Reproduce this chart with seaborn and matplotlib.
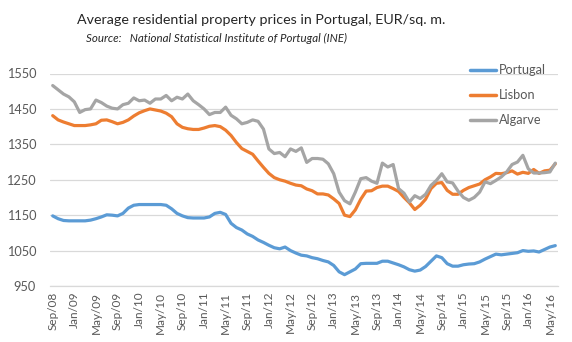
import matplotlib
matplotlib.use("Agg")
import matplotlib.pyplot as plt
import seaborn as sns
import pandas as pd
import numpy as np

months = ["Sep", "Oct", "Nov", "Dec", "Jan", "Feb", "Mar", "Apr", "May", "Jun", "Jul", "Aug"]
periods = []
_y, _m = 8, 0
for _ in range(94):
    periods.append(f"{months[_m]}/{_y:02d}")
    _m += 1
    if _m == 12:
        _m = 0
    if months[_m] == "Jan" and _m == 4:
        _y += 1

portugal = [1148, 1140, 1135, 1134, 1134, 1134, 1134, 1136, 1140, 1145,
            1151, 1150, 1148, 1155, 1170, 1178, 1180, 1180, 1180, 1180,
            1180, 1178, 1168, 1155, 1148, 1143, 1142, 1142, 1142, 1145,
            1155, 1158, 1152, 1127, 1115, 1108, 1097, 1090, 1080, 1073,
            1065, 1058, 1055, 1060, 1050, 1043, 1037, 1035, 1030, 1027,
            1022, 1018, 1008, 990, 982, 990, 998, 1013, 1014, 1014,
            1014, 1020, 1020, 1015, 1010, 1004, 996, 992, 995, 1005,
            1020, 1035, 1030, 1013, 1006, 1006, 1010, 1012, 1013, 1018,
            1026, 1033, 1040, 1038, 1040, 1042, 1044, 1050, 1048, 1049,
            1046, 1053, 1060, 1064]

lisbon = [1431, 1419, 1413, 1408, 1403, 1403, 1403, 1405, 1408, 1418,
          1419, 1414, 1408, 1412, 1419, 1430, 1439, 1445, 1450, 1447,
          1444, 1438, 1428, 1408, 1398, 1394, 1392, 1392, 1396, 1401,
          1403, 1400, 1390, 1375, 1355, 1338, 1330, 1322, 1303, 1285,
          1268, 1256, 1250, 1246, 1240, 1235, 1233, 1224, 1219, 1210,
          1210, 1207, 1196, 1183, 1150, 1146, 1165, 1195, 1218, 1219,
          1228, 1232, 1232, 1225, 1217, 1200, 1185, 1166, 1178, 1195,
          1225, 1240, 1242, 1220, 1209, 1209, 1220, 1228, 1233, 1238,
          1250, 1258, 1268, 1267, 1270, 1275, 1266, 1271, 1268, 1279,
          1268, 1275, 1277, 1295]

algarve = [1516, 1504, 1492, 1484, 1470, 1440, 1448, 1450, 1475, 1468,
           1458, 1452, 1450, 1462, 1466, 1481, 1473, 1475, 1466, 1478,
           1478, 1488, 1473, 1483, 1478, 1492, 1473, 1462, 1450, 1434,
           1440, 1440, 1455, 1432, 1422, 1408, 1412, 1419, 1415, 1393,
           1337, 1324, 1327, 1315, 1337, 1330, 1340, 1299, 1310, 1310,
           1308, 1295, 1267, 1215, 1191, 1182, 1215, 1253, 1256, 1246,
           1240, 1297, 1286, 1293, 1225, 1212, 1187, 1205, 1197, 1209,
           1234, 1248, 1267, 1244, 1241, 1218, 1200, 1192, 1200, 1215,
           1244, 1239, 1248, 1258, 1272, 1293, 1300, 1319, 1281, 1269,
           1269, 1270, 1272, 1297]

series_names = ["Portugal", "Lisbon", "Algarve"]
colors = ["#5B9BD5", "#ED7D31", "#A5A5A5"]
y_ticks = [950, 1050, 1150, 1250, 1350, 1450, 1550]

title = "Average residential property prices in Portugal, EUR/sq. m."
source = "Source:   National Statistical Institute of Portugal (INE)"

df = pd.DataFrame({
    "idx": list(range(len(periods))) * 3,
    "value": portugal + lisbon + algarve,
    "series": [s for s in series_names for _ in periods],
})

sns.set_theme(style="white")
plt.rcParams["font.family"] = ["Lato", "DejaVu Sans"]

W, H = 572, 342
fig = plt.figure(figsize=(W / 100, H / 100), dpi=100)
left, right, top, bottom = 50, 558, 73.5, 286
ax = fig.add_axes([left / W, 1 - bottom / H, (right - left) / W, (bottom - top) / H])

sns.lineplot(data=df, x="idx", y="value", hue="series", hue_order=series_names,
             palette=colors, linewidth=2.3, ax=ax, legend=True)

ax.set_xlim(-0.5, len(periods) - 0.5)
ax.set_ylim(950, 1550)
ax.set_yticks(y_ticks)
ax.set_yticklabels([str(v) for v in y_ticks], fontsize=9.2, color="#595959")
tick_pos = list(range(0, len(periods), 4))
ax.set_xticks(tick_pos)
ax.set_xticklabels([periods[i] for i in tick_pos], rotation=90, fontsize=8.5, color="#595959")
ax.tick_params(axis="x", length=0, pad=4)
ax.tick_params(axis="y", length=0, pad=10)
ax.set_xlabel("")
ax.set_ylabel("")
ax.yaxis.grid(True, color="#D9D9D9", linewidth=0.9)
ax.set_axisbelow(True)
for s in ["left", "right", "top"]:
    ax.spines[s].set_visible(False)
ax.spines["bottom"].set_color("#D9D9D9")
ax.spines["bottom"].set_linewidth(0.9)

leg = ax.legend(loc="upper left", bbox_to_anchor=(459 / W, 1 - 53 / H),
                bbox_transform=fig.transFigure, frameon=False, fontsize=9.2,
                handlelength=2.0, handletextpad=0.25, labelspacing=1.0)
for t in leg.get_texts():
    t.set_color("#595959")
for l in leg.get_lines():
    l.set_linewidth(2.5)

fig.text(261 / W, 1 - 20 / H, title, ha="center", va="center", fontsize=10.3, color="#262626")
fig.text(86 / W, 1 - 38 / H, source, ha="left", va="center", fontsize=8.3,
         style="italic", color="#262626")

fig.savefig("out.png", dpi=100)
